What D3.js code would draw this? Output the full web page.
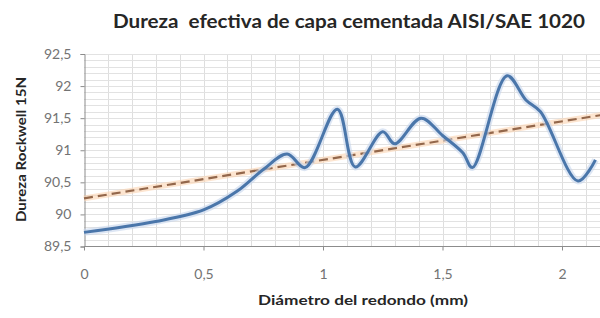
<!DOCTYPE html>
<html>
<head>
<meta charset="utf-8">
<script src="https://cdn.jsdelivr.net/npm/d3@7"></script>
<style>
  body { margin: 0; background: #fff; }
  svg { display: block; }
</style>
</head>
<body>
<div class="canvas"></div>
<script>
// data
const diameter = [0, 0.3, 0.5, 0.64, 0.75, 0.85, 0.925, 1.06, 1.135, 1.25, 1.3, 1.41, 1.5, 1.585, 1.625, 1.77, 1.85, 1.91, 2.067, 2.14];
const hardness = [89.72, 89.89, 90.07, 90.36, 90.7, 90.94, 90.73, 91.64, 90.74, 91.29, 91.1, 91.5, 91.23, 90.96, 90.73, 92.16, 91.78, 91.6, 90.52, 90.85];
const trendIntercept = 90.25;
const trendSlope = 0.6;
const xTicks = [0, 0.5, 1, 1.5, 2];
const yTicks = [89.5, 90, 90.5, 91, 91.5, 92, 92.5];

const width = 600;
const height = 318;

const svg = d3
  .select(".canvas")
  .append("svg")
  .attr("width", width)
  .attr("height", height);

const xScale = d3.scaleLinear().domain([0, 2.5]).range([84, 84 + 2.5 * 239]);
const yScale = d3.scaleLinear().domain([89.5, 92.5]).range([246.5, 54]);

const fmt = (d) => String(d).replace(".", ",");
const plotRight = width;
const font = "Lato, 'Open Sans', sans-serif";

// grid every 0.1
const grid = svg.append("g");
const xMinor = d3.range(1, 26).map((i) => i / 10);
const yMinor = d3.range(1, 31).map((i) => 89.5 + i / 10);

grid
  .selectAll("line.v")
  .data(xMinor)
  .enter()
  .append("line")
  .attr("x1", (d) => Math.round(xScale(d)) + 0.5)
  .attr("x2", (d) => Math.round(xScale(d)) + 0.5)
  .attr("y1", yScale(92.5))
  .attr("y2", yScale(89.5))
  .attr("stroke", "#dedede")
  .attr("stroke-width", 1);

grid
  .selectAll("line.h")
  .data(yMinor)
  .enter()
  .append("line")
  .attr("x1", xScale(0))
  .attr("x2", plotRight)
  .attr("y1", (d) => Math.round(yScale(d)) + 0.5)
  .attr("y2", (d) => Math.round(yScale(d)) + 0.5)
  .attr("stroke", "#e2e2e2")
  .attr("stroke-width", 1);

// axes
const yAxis = svg
  .append("g")
  .attr("transform", `translate(${xScale(0) + 0.5},0)`)
  .call(d3.axisLeft(yScale).tickValues(yTicks).tickFormat(fmt).tickSize(4).tickPadding(9));

const xAxis = svg
  .append("g")
  .attr("transform", `translate(0,${yScale(89.5)})`)
  .call(d3.axisBottom(xScale).tickValues(xTicks).tickFormat(fmt).tickSize(4).tickPadding(19));

[xAxis, yAxis].forEach((ax) => {
  ax.select(".domain").attr("stroke", "#8c8c8c");
  ax.selectAll(".tick line").attr("stroke", "#8c8c8c");
  ax.selectAll(".tick text")
    .attr("fill", "#737373")
    .attr("font-family", font)
    .attr("font-size", 14);
});
xAxis.select(".domain").attr("d", `M${xScale(0)},0H${plotRight}`);

// trend line
const trendX = [0, 2.25];
const trendLine = d3
  .line()
  .x((d) => xScale(d))
  .y((d) => yScale(trendIntercept + trendSlope * d));

svg
  .append("path")
  .attr("d", trendLine(trendX))
  .attr("fill", "none")
  .attr("stroke", "#fbd3b0")
  .attr("stroke-width", 6)
  .attr("stroke-opacity", 0.6);

svg
  .append("path")
  .attr("d", trendLine(trendX))
  .attr("fill", "none")
  .attr("stroke", "#93674b")
  .attr("stroke-width", 2.2)
  .attr("stroke-dasharray", "9,5");

// data line
const pts = diameter.map((d, i) => [d, hardness[i]]);
const curve = d3
  .line()
  .x((d) => xScale(d[0]))
  .y((d) => yScale(d[1]))
  .curve(d3.curveCatmullRom.alpha(0.5));

svg
  .append("path")
  .attr("d", curve(pts))
  .attr("fill", "none")
  .attr("stroke", "#c6d6ec")
  .attr("stroke-width", 7)
  .attr("stroke-opacity", 0.6);

svg
  .append("path")
  .attr("d", curve(pts))
  .attr("fill", "none")
  .attr("stroke", "#4a76aa")
  .attr("stroke-width", 3)
  .attr("stroke-linejoin", "round");

// titles
svg
  .append("text")
  .text("Dureza  efectiva de capa cementada AISI/SAE 1020")
  .attr("x", 113)
  .attr("y", 28)
  .attr("textLength", 472)
  .attr("lengthAdjust", "spacingAndGlyphs")
  .attr("xml:space", "preserve")
  .style("white-space", "pre")
  .attr("fill", "#262626")
  .attr("font-family", font)
  .attr("font-weight", "bold")
  .attr("font-size", 19);

svg
  .append("text")
  .text("Diámetro del redondo (mm)")
  .attr("x", 258)
  .attr("y", 305)
  .attr("textLength", 210)
  .attr("lengthAdjust", "spacingAndGlyphs")
  .attr("fill", "#262626")
  .attr("font-family", font)
  .attr("font-weight", "bold")
  .attr("font-size", 14);

svg
  .append("text")
  .text("Dureza Rockwell 15N")
  .attr("transform", "translate(26,222) rotate(-90)")
  .attr("textLength", 145)
  .attr("lengthAdjust", "spacingAndGlyphs")
  .attr("fill", "#262626")
  .attr("font-family", font)
  .attr("font-weight", "bold")
  .attr("font-size", 14);
</script>
</body>
</html>
